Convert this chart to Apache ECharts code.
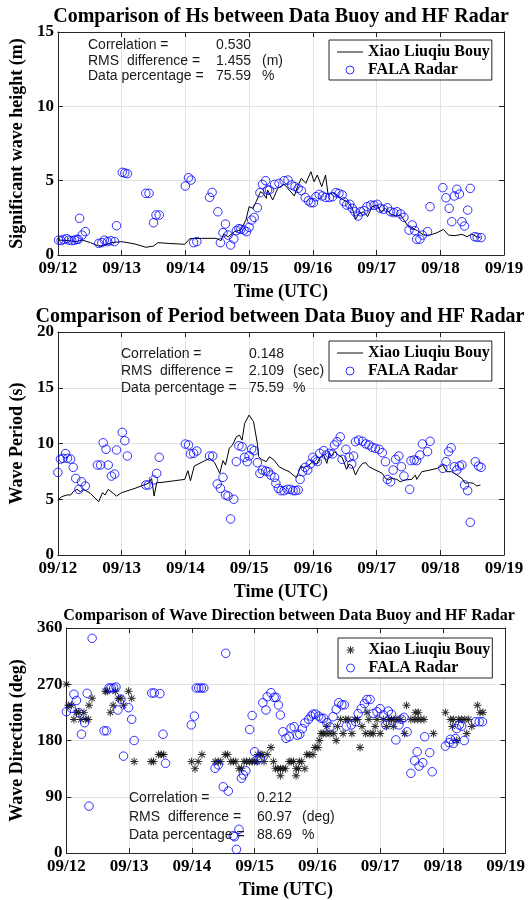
<!DOCTYPE html>
<html><head><meta charset="utf-8">
<script src="https://cdn.jsdelivr.net/npm/echarts@6/dist/echarts.min.js"></script>
<style>html,body{margin:0;padding:0;background:#fff}#c{width:528px;height:900px}</style>
</head><body><div id="c"></div>
<script>
// ---------- data ----------
const dayLabels = ['09/12','09/13','09/14','09/15','09/16','09/17','09/18','09/19'];
const hsTicks = [0, 5, 10, 15];
const tpTicks = [0, 5, 10, 15, 20];
const dirTicks = [0, 90, 180, 270, 360];

// x = days since 09/12 00:00 UTC
const hsBuoy = [[0.0,1.01],[0.16,0.97],[0.29,0.9],[0.38,1.01],[0.51,0.83],[0.64,0.6],[0.74,0.67],[0.84,0.83],[1.0,0.9],[1.21,0.74],[1.38,0.52],[1.5,0.6],[1.57,0.83],[1.73,0.78],[1.99,0.72],[2.07,1.1],[2.25,1.12],[2.48,1.12],[2.56,0.97],[2.6,1.41],[2.67,1.23],[2.77,1.57],[2.87,1.68],[2.95,2.35],[3.0,3.25],[3.06,3.14],[3.11,3.58],[3.18,4.26],[3.22,4.15],[3.27,3.81],[3.29,4.37],[3.37,3.7],[3.45,4.48],[3.55,4.77],[3.63,4.37],[3.71,3.97],[3.76,4.6],[3.82,5.16],[3.89,4.82],[3.97,5.6],[4.02,4.93],[4.07,5.38],[4.14,4.6],[4.2,5.38],[4.24,4.04],[4.31,4.19],[4.38,4.04],[4.46,3.75],[4.54,3.58],[4.62,3.14],[4.67,2.4],[4.72,2.76],[4.8,2.91],[4.86,2.58],[4.93,3.25],[5.01,3.36],[5.07,2.91],[5.14,3.14],[5.22,2.76],[5.3,2.62],[5.38,2.69],[5.48,2.02],[5.56,1.79],[5.64,1.64],[5.74,1.34],[5.84,1.34],[5.95,1.5],[6.05,1.72],[6.13,1.34],[6.23,1.3],[6.34,1.39],[6.42,1.23],[6.49,1.41],[6.57,1.23],[6.63,1.17]];
const hsRadar = [[0.01,1.0],[0.05,0.97],[0.09,1.05],[0.14,1.1],[0.17,1.0],[0.22,0.97],[0.26,1.0],[0.30,1.05],[0.32,1.05],[0.34,2.47],[0.38,1.34],[0.43,1.57],[0.64,0.78],[0.69,0.83],[0.73,1.0],[0.78,0.9],[0.83,0.96],[0.89,0.9],[0.92,1.97],[1.01,5.56],[1.05,5.51],[1.09,5.47],[1.38,4.15],[1.43,4.15],[1.5,2.17],[1.54,2.69],[1.59,2.69],[2.0,4.64],[2.05,5.2],[2.09,5.04],[2.13,0.83],[2.18,0.9],[2.38,3.88],[2.42,4.21],[2.51,2.91],[2.55,0.83],[2.59,1.5],[2.63,2.08],[2.67,1.34],[2.71,0.67],[2.76,1.08],[2.8,1.64],[2.84,1.77],[2.87,1.73],[2.92,1.68],[2.96,1.57],[3.0,1.86],[3.04,2.35],[3.08,2.53],[3.13,3.18],[3.17,4.19],[3.21,4.75],[3.26,5.0],[3.29,4.37],[3.32,4.37],[3.4,4.75],[3.47,4.82],[3.55,5.0],[3.61,5.04],[3.67,4.71],[3.72,4.6],[3.77,4.48],[3.82,4.33],[3.88,3.87],[3.93,3.65],[3.97,3.52],[4.01,3.52],[4.05,3.92],[4.1,4.08],[4.15,3.97],[4.2,3.87],[4.26,3.87],[4.31,3.92],[4.36,4.19],[4.41,4.15],[4.46,4.04],[4.49,3.58],[4.53,3.36],[4.58,3.41],[4.62,3.14],[4.66,2.91],[4.71,2.62],[4.75,2.91],[4.8,2.98],[4.85,3.25],[4.91,3.36],[4.96,3.34],[5.01,3.41],[5.06,3.14],[5.11,3.07],[5.17,3.18],[5.22,2.91],[5.27,2.85],[5.32,2.91],[5.38,2.76],[5.43,2.53],[5.51,1.68],[5.56,2.02],[5.6,1.64],[5.63,1.06],[5.68,1.06],[5.72,1.34],[5.8,1.57],[5.84,3.25],[6.04,4.53],[6.09,3.85],[6.14,3.14],[6.18,2.24],[6.22,3.97],[6.26,4.42],[6.3,4.1],[6.34,2.24],[6.38,1.95],[6.43,3.02],[6.47,4.48],[6.54,1.23],[6.58,1.19],[6.64,1.17]];

const tpBuoy = [[0.0,4.93],[0.06,5.23],[0.14,5.38],[0.2,5.38],[0.24,5.68],[0.3,5.89],[0.35,5.68],[0.4,5.89],[0.51,5.53],[0.64,4.78],[0.7,5.59],[0.74,5.38],[0.79,5.89],[0.87,5.53],[0.92,5.29],[1.0,5.59],[1.21,5.98],[1.42,6.43],[1.47,6.87],[1.51,5.29],[1.55,6.49],[1.6,6.49],[1.83,6.66],[1.99,6.78],[2.04,7.56],[2.08,6.66],[2.14,7.98],[2.38,8.67],[2.46,8.28],[2.54,7.32],[2.59,8.46],[2.63,8.07],[2.69,9.57],[2.74,9.87],[2.8,10.6],[2.85,10.75],[2.89,10.3],[2.93,11.8],[3.0,12.55],[3.07,11.96],[3.13,10.0],[3.15,8.82],[3.19,8.6],[3.27,8.37],[3.32,8.82],[3.4,8.46],[3.47,7.92],[3.55,7.68],[3.63,7.47],[3.69,7.17],[3.74,6.96],[3.77,7.32],[3.81,7.98],[3.85,7.86],[3.92,7.98],[4.0,8.37],[4.06,8.16],[4.11,8.76],[4.17,8.97],[4.22,8.22],[4.26,9.12],[4.29,8.88],[4.34,9.27],[4.4,8.97],[4.46,8.76],[4.53,7.68],[4.57,8.16],[4.62,7.98],[4.67,7.17],[4.72,7.77],[4.78,8.22],[4.83,8.28],[4.88,7.92],[4.96,7.68],[5.04,7.47],[5.09,7.32],[5.14,6.87],[5.19,6.73],[5.24,6.87],[5.32,6.78],[5.37,6.57],[5.45,6.73],[5.55,6.78],[5.61,7.17],[5.63,6.78],[5.71,7.47],[5.84,7.62],[5.95,7.77],[6.04,8.07],[6.1,7.47],[6.18,7.47],[6.26,7.17],[6.34,6.87],[6.39,6.43],[6.46,6.49],[6.52,6.43],[6.57,6.19],[6.63,6.28]];
const tpRadar = [[0.0,7.41],[0.04,8.6],[0.08,8.67],[0.12,9.1],[0.15,8.67],[0.2,8.6],[0.24,7.86],[0.28,6.87],[0.33,5.89],[0.37,6.57],[0.43,6.19],[0.62,8.07],[0.67,8.07],[0.71,10.07],[0.755,9.48],[0.79,8.07],[0.84,7.08],[0.89,7.26],[0.92,9.42],[1.01,11.0],[1.05,10.25],[1.09,8.88],[1.38,6.28],[1.42,6.28],[1.5,6.73],[1.55,7.32],[1.59,8.76],[2.0,9.95],[2.05,9.87],[2.08,9.06],[2.13,9.12],[2.18,9.33],[2.38,8.88],[2.43,8.88],[2.5,6.37],[2.55,5.98],[2.59,6.96],[2.63,5.38],[2.67,5.29],[2.71,3.23],[2.76,5.0],[2.8,8.37],[2.84,9.8],[2.89,9.71],[2.93,8.76],[2.97,8.37],[3.0,8.88],[3.04,9.5],[3.08,9.36],[3.13,8.28],[3.17,7.32],[3.21,7.62],[3.26,7.53],[3.3,7.47],[3.34,7.17],[3.4,6.96],[3.42,6.43],[3.46,5.98],[3.5,5.77],[3.55,5.77],[3.6,5.89],[3.65,5.89],[3.69,5.77],[3.73,5.77],[3.77,5.83],[3.8,6.78],[3.84,7.47],[3.88,7.86],[3.92,7.62],[3.96,8.16],[4.0,8.76],[4.04,8.52],[4.07,8.37],[4.11,9.12],[4.17,9.36],[4.21,8.97],[4.26,9.12],[4.31,9.06],[4.34,9.87],[4.38,10.16],[4.43,10.6],[4.46,8.58],[4.52,9.48],[4.57,8.76],[4.61,8.16],[4.64,8.88],[4.67,10.16],[4.72,10.3],[4.78,10.2],[4.83,9.96],[4.88,9.87],[4.93,9.66],[4.98,9.57],[5.04,9.48],[5.09,9.18],[5.14,8.37],[5.17,6.78],[5.22,6.57],[5.26,7.62],[5.3,8.58],[5.35,8.88],[5.39,7.92],[5.43,7.08],[5.52,5.89],[5.54,8.46],[5.59,8.52],[5.63,8.46],[5.68,8.97],[5.72,9.96],[5.8,9.27],[5.84,10.2],[6.04,7.77],[6.09,8.37],[6.13,9.27],[6.17,9.62],[6.22,7.92],[6.26,7.62],[6.3,7.98],[6.34,8.07],[6.38,6.28],[6.43,5.77],[6.47,2.93],[6.55,8.37],[6.6,7.98],[6.64,7.86]];

const dirBuoy = [[0.0,270],[0.03,236.25],[0.08,236.25],[0.12,213.75],[0.16,225],[0.2,225],[0.23,213.75],[0.28,225],[0.31,213.75],[0.35,213.75],[0.36,236.25],[0.41,247.5],[0.62,258.75],[0.65,258.75],[0.7,225],[0.745,236.25],[0.78,258.75],[0.83,247.5],[0.87,247.5],[0.91,236.25],[0.99,258.75],[1.04,247.5],[1.08,146.25],[1.35,146.25],[1.39,146.25],[1.47,157.5],[1.51,157.5],[1.55,157.5],[1.995,146.25],[2.05,135],[2.1,146.25],[2.16,157.5],[2.37,146.25],[2.42,146.25],[2.46,146.25],[2.53,157.5],[2.57,157.5],[2.62,146.25],[2.66,146.25],[2.7,146.25],[2.75,135],[2.79,135],[2.83,146.25],[2.87,146.25],[2.92,146.25],[2.96,146.25],[3.0,146.25],[3.04,146.25],[3.05,157.5],[3.1,157.5],[3.12,157.5],[3.15,146.25],[3.2,157.5],[3.26,168.75],[3.3,146.25],[3.33,135],[3.37,135],[3.41,135],[3.41,123.75],[3.45,135],[3.49,135],[3.55,146.25],[3.58,146.25],[3.62,146.25],[3.66,135],[3.66,123.75],[3.7,135],[3.71,146.25],[3.75,146.25],[3.8,135],[3.83,157.5],[3.87,157.5],[3.93,157.5],[3.96,168.75],[4.01,168.75],[4.03,180],[4.06,191.25],[4.09,191.25],[4.14,191.25],[4.15,202.5],[4.2,191.25],[4.26,191.25],[4.3,180],[4.32,202.5],[4.37,213.75],[4.41,191.25],[4.45,213.75],[4.5,213.75],[4.55,191.25],[4.6,213.75],[4.64,213.75],[4.68,168.75],[4.71,202.5],[4.77,191.25],[4.79,225],[4.82,213.75],[4.84,191.25],[4.89,191.25],[4.92,202.5],[4.95,213.75],[5.0,191.25],[5.05,213.75],[5.1,202.5],[5.14,213.75],[5.18,213.75],[5.21,202.5],[5.22,213.75],[5.27,213.75],[5.33,213.75],[5.39,191.25],[5.42,236.25],[5.49,213.75],[5.55,213.75],[5.56,225],[5.6,213.75],[5.61,225],[5.65,213.75],[5.7,213.75],[5.85,191.25],[6.04,225],[6.12,213.75],[6.15,202.5],[6.17,213.75],[6.22,180],[6.25,213.75],[6.3,213.75],[6.35,213.75],[6.38,191.25],[6.41,213.75],[6.46,202.5],[6.55,236.25],[6.59,225],[6.64,225]];
const dirRadar = [[0.0,226],[0.08,231.5],[0.12,254],[0.16,244],[0.2,224.5],[0.24,190],[0.29,208.5],[0.33,255.5],[0.36,75],[0.41,343.5],[0.6,195.5],[0.64,195.5],[0.68,264],[0.71,264],[0.755,264],[0.79,265.5],[0.82,228.8],[0.87,246],[0.91,155],[0.99,232.5],[1.04,213.9],[1.08,180],[1.36,256],[1.4,256],[1.49,255],[1.54,190],[1.58,143.5],[1.99,205],[2.04,219],[2.07,264],[2.11,264],[2.15,264],[2.19,264],[2.37,135.5],[2.42,141],[2.5,106],[2.54,319.5],[2.58,99],[2.66,27.7],[2.68,26],[2.71,5.9],[2.75,37.9],[2.79,119.5],[2.82,125],[2.86,131.5],[2.92,197.5],[2.96,220],[3.0,162],[3.04,149],[3.09,152],[3.13,240.5],[3.18,228.8],[3.2,250],[3.26,256.5],[3.31,249],[3.34,249],[3.38,236.8],[3.41,220.8],[3.45,194],[3.5,183.5],[3.55,186],[3.58,200],[3.63,202],[3.68,188.5],[3.72,190],[3.76,199],[3.8,208],[3.86,213.9],[3.9,219],[3.93,222],[3.97,222.4],[4.02,219],[4.06,215.5],[4.1,215.5],[4.15,208.5],[4.2,202],[4.25,218],[4.3,230],[4.34,240.5],[4.39,237],[4.43,237],[4.46,203],[4.54,205],[4.61,210],[4.65,223],[4.7,231],[4.75,239],[4.79,245.6],[4.84,245.6],[4.89,223],[4.95,226],[5.0,231],[5.05,221],[5.09,205],[5.13,227],[5.18,222],[5.25,181],[5.3,205],[5.34,214],[5.38,217],[5.43,194],[5.49,127.5],[5.55,147.7],[5.59,162],[5.62,139],[5.68,144.5],[5.71,186],[5.79,160.5],[5.83,130],[6.04,171],[6.1,176.5],[6.12,182],[6.17,175.5],[6.2,183],[6.22,199],[6.26,204.8],[6.3,203],[6.34,180],[6.52,210],[6.58,210],[6.63,210]];

const buoyName = 'Xiao Liuqiu Bouy';
const radarName = 'FALA Radar';
const titles = ['Comparison of Hs between Data Buoy and HF Radar','Comparison of Period between Data Buoy and HF Radar','Comparison of Wave Direction between Data Buoy and HF Radar'];
const yNames = ['Significant wave height (m)','Wave Period (s)','Wave Direction (deg)'];
const statLabels = ['Correlation =','RMS  difference =','Data percentage ='];
const statValues = [['0.530','1.455','75.59'],['0.148','2.109','75.59'],['0.212','60.97','88.69']];
const statUnits = [['','(m)','%'],['','(sec)','%'],['','(deg)','%']];

// ---------- layout ----------
const SERIF = '"Liberation Serif","Times New Roman",serif';
const SANS = '"Liberation Sans",Arial,sans-serif';
const AX = '#262626';
const grids = [
  {left:56, top:32, width:448, height:223},
  {left:56, top:332, width:448, height:223},
  {left:65, top:628, width:448, height:225}
];
const yRanges = [[0,15,5],[0,20,5],[0,360,90]];
const yGaps = [22.5, 22.5, 30.5];
const STAR = 'path://M-0.6,-5L0.6,-5L0.6,5L-0.6,5Z M-5,-0.6L5,-0.6L5,0.6L-5,0.6Z M-3.96,-3.11L-3.11,-3.96L3.96,3.11L3.11,3.96Z M3.11,-3.96L3.96,-3.11L-3.11,3.96L-3.96,3.11Z';
const LINEICON = 'path://M0,0L30,0L30,1.1L0,1.1Z';

const xAxes = [], yAxes = [];
grids.forEach((g, i) => {
  xAxes.push({type:'value', gridIndex:i, min:0, max:7, interval:1, position:'bottom',
    axisLine:{show:true, onZero:false, lineStyle:{color:AX, width:1}},
    axisTick:{show:true, inside:true, length:5, lineStyle:{color:AX}},
    axisLabel:{margin:5, fontFamily:SERIF, fontWeight:'bold', fontSize:17, color:'#000', formatter:v => dayLabels[Math.round(v)]},
    splitLine:{show:true, lineStyle:{color:'#e2e2e2', width:1}},
    name:'Time (UTC)', nameLocation:'middle', nameGap:28,
    nameTextStyle:{fontFamily:SERIF, fontWeight:'bold', fontSize:18, color:'#000'}});
  xAxes.push({type:'value', gridIndex:i, min:0, max:7, interval:1, position:'top',
    axisLine:{show:true, onZero:false, lineStyle:{color:AX, width:1}},
    axisTick:{show:true, inside:true, length:5, lineStyle:{color:AX}},
    axisLabel:{show:false}, splitLine:{show:false}});
  const r = yRanges[i];
  yAxes.push({type:'value', gridIndex:i, min:r[0], max:r[1], interval:r[2], position:'left',
    axisLine:{show:true, onZero:false, lineStyle:{color:AX, width:1}},
    axisTick:{show:true, inside:true, length:5, lineStyle:{color:AX}},
    axisLabel:{margin:4, fontFamily:SERIF, fontWeight:'bold', fontSize:17, color:'#000'},
    splitLine:{show:true, lineStyle:{color:'#e2e2e2', width:1}},
    name:yNames[i], nameLocation:'middle', nameGap:yGaps[i],
    nameTextStyle:{fontFamily:SERIF, fontWeight:'bold', fontSize:18, color:'#000'}});
  yAxes.push({type:'value', gridIndex:i, min:r[0], max:r[1], interval:r[2], position:'right',
    axisLine:{show:true, onZero:false, lineStyle:{color:AX, width:1}},
    axisTick:{show:true, inside:true, length:5, lineStyle:{color:AX}},
    axisLabel:{show:false}, splitLine:{show:false}});
});

const circleStyle = {color:'rgba(0,0,0,0)', borderColor:'#0000ff', borderWidth:1};
function radarSeries(i, data, name){
  return {type:'scatter', name:name, xAxisIndex:2*i, yAxisIndex:2*i, data:data,
    symbol:'circle', symbolSize:8.5, itemStyle:circleStyle, emphasis:{disabled:true}, z:3};
}
const series = [
  {type:'line', name:buoyName, xAxisIndex:0, yAxisIndex:0, data:hsBuoy, symbol:'none', showSymbol:false,
    lineStyle:{color:'#000', width:1}, itemStyle:{color:'#000'}, emphasis:{disabled:true}, z:2},
  radarSeries(0, hsRadar, radarName),
  {type:'line', name:buoyName, xAxisIndex:2, yAxisIndex:2, data:tpBuoy, symbol:'none', showSymbol:false,
    lineStyle:{color:'#000', width:1}, itemStyle:{color:'#000'}, emphasis:{disabled:true}, z:2},
  radarSeries(1, tpRadar, radarName),
  {type:'scatter', name:buoyName + '\u200b', xAxisIndex:4, yAxisIndex:4, data:dirBuoy, symbol:STAR, symbolSize:8,
    itemStyle:{color:'#000'}, emphasis:{disabled:true}, z:2},
  radarSeries(2, dirRadar, radarName + '\u200b')
];

function legendAt(left, top, names, icons){
  return {show:true, orient:'vertical', left:left, top:top, selectedMode:false,
    backgroundColor:'#fff', borderColor:AX, borderWidth:1, padding:[4,2,2,8],
    itemWidth:26, itemHeight:8, itemGap:2,
    itemStyle:{borderWidth:1},
    textStyle:{fontFamily:SERIF, fontWeight:'bold', fontSize:16, color:'#000'},
    data:names.map((n, k) => ({name:n, icon:icons[k]}))};
}
const legends = [
  legendAt(329, 40, [buoyName, radarName], [LINEICON, 'circle']),
  legendAt(329, 341, [buoyName, radarName], [LINEICON, 'circle']),
  legendAt(338, 638, [buoyName + '\u200b', radarName + '\u200b'], [STAR, 'circle'])
];

const graphics = [];
const titlePos = [[281, 16.5, 20], [280, 317, 20], [289, 616, 16]];
titles.forEach((t, i) => {
  graphics.push({type:'text', x:titlePos[i][0], y:titlePos[i][1], z:10,
    style:{text:t, font:'bold ' + titlePos[i][2] + 'px ' + SERIF, fill:'#000', align:'center', verticalAlign:'middle'}});
});
const statPos = [
  {x:[88, 216, 262], y:[45, 61, 76]},
  {x:[121, 249, 293], y:[354, 371, 388]},
  {x:[129, 257, 302], y:[798, 817, 835.5]}
];
statPos.forEach((p, i) => {
  for (let k = 0; k < 3; k++) {
    const cols = [statLabels[k], statValues[i][k], statUnits[i][k]];
    cols.forEach((txt, c) => {
      if (!txt) return;
      graphics.push({type:'text', x:p.x[c], y:p.y[k], z:10,
        style:{text:txt, font:'14px ' + SANS, fill:'#1a1a1a', align:'left', verticalAlign:'middle'}});
    });
  }
});

const chart = echarts.init(document.getElementById('c'), null, {renderer:'canvas'});
chart.setOption({
  animation:false,
  backgroundColor:'#fff',
  grid:grids.map(g => Object.assign({containLabel:false, show:false}, g)),
  xAxis:xAxes, yAxis:yAxes, series:series, legend:legends, graphic:graphics
});
</script></body></html>
